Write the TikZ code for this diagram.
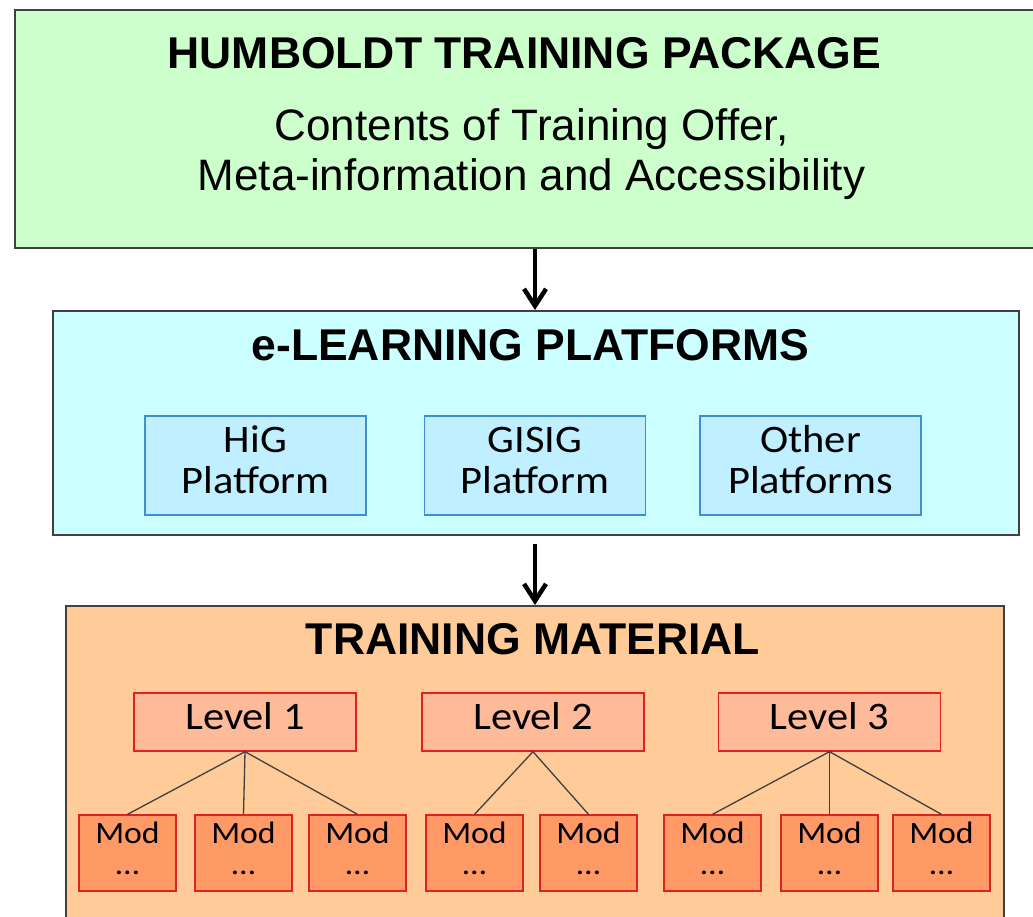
\documentclass[tikz,border=0pt]{standalone}
\usepackage{fontspec}
\setmainfont{Liberation Sans}
\newfontfamily\calfont[FakeStretch=1.09]{Carlito}
\usetikzlibrary{arrows.meta}
\definecolor{bord}{HTML}{404040}
\definecolor{greenfill}{HTML}{CCFFCC}
\definecolor{cyanfill}{HTML}{CCFFFF}
\definecolor{platfill}{HTML}{C0EFFF}
\definecolor{platbord}{HTML}{3F8FD0}
\definecolor{orangefill}{HTML}{FFCC99}
\definecolor{lvlfill}{HTML}{FFBB99}
\definecolor{modfill}{HTML}{FF9966}
\definecolor{redbord}{HTML}{DD2222}
\begin{document}
\begin{tikzpicture}[x=1pt,y=-1pt,
  outer/.style={draw=bord, line width=2pt, rectangle, inner sep=0pt, anchor=north west},
  plat/.style={draw=platbord, fill=platfill, line width=1.3pt, rectangle, inner sep=0pt, minimum width=221pt, minimum height=99pt},
  lvl/.style={draw=redbord, fill=lvlfill, line width=1.3pt, rectangle, inner sep=0pt, minimum width=222pt, minimum height=58pt},
  modbox/.style={draw=redbord, fill=modfill, line width=1.3pt, rectangle, inner sep=0pt, minimum width=97pt, minimum height=76pt},
  title/.style={anchor=base, inner sep=0pt, font=\fontsize{44.5}{44}\selectfont\bfseries},
  subtxt/.style={anchor=base, inner sep=0pt, font=\fontsize{44}{44}\selectfont},
  caltxt/.style={anchor=base, inner sep=0pt, font=\calfont\fontsize{39}{39}\selectfont},
  modtxt/.style={anchor=base, inner sep=0pt, font=\calfont\fontsize{31}{31}\selectfont},
  arr/.style={line width=4.5pt, -{Straight Barb[length=17pt,width=22pt]}},
  link/.style={draw=bord, line width=1.3pt}]
\useasboundingbox (0,0) rectangle (1033,916);
\fill[white] (0,0) rectangle (1033,916);
% outer boxes
\node[outer, fill=greenfill, minimum width=1031pt, minimum height=238pt] (hum) at (14,9) {};
\node[outer, fill=cyanfill, minimum width=966pt, minimum height=224pt] (el) at (52,310) {};
\node[outer, fill=orangefill, minimum width=938pt, minimum height=330pt] (tm) at (65,605) {};
% titles
\node[title] (humt) at (524.5,68) {HUMBOLDT TRAINING PACKAGE};
\node[subtxt] (sub1) at (531.5,140) {Contents of Training Offer,};
\node[subtxt] (sub2) at (531.5,190) {Meta-information and Accessibility};
\node[title] (elt) at (530.5,360) {e-LEARNING PLATFORMS};
\node[title] (tmt) at (533,654) {TRAINING MATERIAL};
% arrows
\coordinate (ax) at (535,0);
\draw[arr] (hum.south -| ax) -- (el.north -| ax);
\draw[arr] ([yshift=-8pt]el.south -| ax) -- (tm.north -| ax);
% platforms
\node[plat] (hig) at (255.5,465.5) {};
\node[plat] (gisig) at (535,465.5) {};
\node[plat] (other) at (810.5,465.5) {};
\node[caltxt] (higa) at (255.5,452) {HiG};
\node[caltxt] (higb) at (255.5,493) {Platform};
\node[caltxt] (gisa) at (535,452) {GISIG};
\node[caltxt] (gisb) at (535,493) {Platform};
\node[caltxt] (otha) at (810.5,452) {Other};
\node[caltxt] (othb) at (810.5,493) {Platforms};
% levels
\node[lvl] (l1) at (245,722) {};
\node[lvl] (l2) at (533,722) {};
\node[lvl] (l3) at (829.5,722) {};
\node[caltxt] (l1t) at (245,729) {Level 1};
\node[caltxt] (l2t) at (533,729) {Level 2};
\node[caltxt] (l3t) at (829.5,729) {Level 3};
% modules
\foreach \n/\x in {m1/127.5, m2/243.5, m3/357.5, m4/474.5, m5/588.5, m6/712.5, m7/829.5, m8/941.5}{
  \node[modbox] (\n) at (\x,853) {};
  \node[modtxt] (\n a) at (\x,843) {Mod};
  \node[modtxt] (\n b) at (\x,874) {…};
}
% links
\foreach \m in {m1,m2,m3}{\draw[link] (l1.south) -- (\m.north);}
\foreach \m in {m4,m5}{\draw[link] (l2.south) -- (\m.north);}
\foreach \m in {m6,m7,m8}{\draw[link] (l3.south) -- (\m.north);}
\end{tikzpicture}
\end{document}
